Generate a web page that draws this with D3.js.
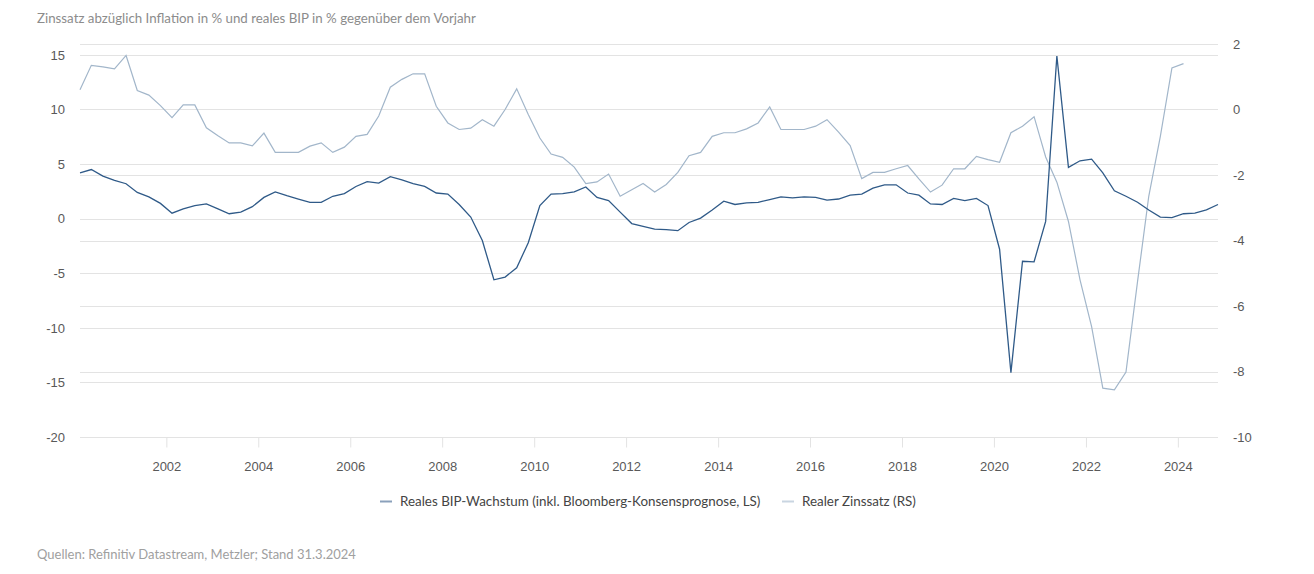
<!DOCTYPE html>
<html>
<head>
<meta charset="utf-8">
<script src="https://cdn.jsdelivr.net/npm/d3@7"></script>
<style>
  body { margin: 0; background: #fff; }
  svg { font-family: "Lato", "Open Sans", sans-serif; }
</style>
</head>
<body>
<div id="chart"></div>
<script>
// quarterly values, 2000Q1 .. 2024Q4
var firstYear = 2000;
var bipGrowth = [
  4.2, 4.5, 3.9, 3.5, 3.2, 2.4, 2.0, 1.4, 0.5, 0.9,
  1.2, 1.35, 0.9, 0.45, 0.6, 1.1, 1.95, 2.45, 2.1, 1.8,
  1.5, 1.5, 2.05, 2.3, 2.95, 3.4, 3.25, 3.85, 3.55, 3.2,
  2.95, 2.35, 2.25, 1.3, 0.15, -2.0, -5.6, -5.35, -4.5, -2.2,
  1.2, 2.25, 2.3, 2.45, 2.9, 1.95, 1.65, 0.6, -0.45, -0.7,
  -0.95, -1.0, -1.1, -0.35, 0.05, 0.8, 1.6, 1.3, 1.45, 1.5,
  1.75, 2.0, 1.9, 2.0, 1.95, 1.7, 1.8, 2.15, 2.25, 2.8,
  3.1, 3.1, 2.35, 2.15, 1.35, 1.3, 1.85, 1.65, 1.85, 1.2,
  -2.8, -14.1, -3.9, -3.95, -0.25, 14.9, 4.7, 5.3, 5.45, 4.2,
  2.55, 2.05, 1.5, 0.8, 0.15, 0.1, 0.45, 0.5, 0.8, 1.3
];
// 2000Q1 .. 2024Q1
var realRate = [
  0.6, 1.35, 1.3, 1.24, 1.65, 0.58, 0.44, 0.12, -0.25, 0.14,
  0.14, -0.56, -0.8, -1.02, -1.02, -1.11, -0.72, -1.31, -1.31, -1.31,
  -1.12, -1.02, -1.31, -1.15, -0.82, -0.76, -0.2, 0.68, 0.92, 1.09,
  1.09, 0.1, -0.41, -0.61, -0.57, -0.31, -0.51, 0.0, 0.63, -0.15,
  -0.87, -1.36, -1.46, -1.76, -2.26, -2.21, -1.97, -2.65, -2.45, -2.26,
  -2.52, -2.29, -1.92, -1.41, -1.31, -0.82, -0.71, -0.71, -0.59, -0.41,
  0.08, -0.61, -0.61, -0.61, -0.51, -0.31, -0.69, -1.1, -2.11, -1.92,
  -1.92, -1.81, -1.71, -2.12, -2.52, -2.31, -1.81, -1.81, -1.43, -1.53,
  -1.61, -0.71, -0.51, -0.22, -1.45, -2.22, -3.42, -5.2, -6.63, -8.51,
  -8.56, -8.02, -5.25, -2.65, -0.82, 1.27, 1.4
];
var leftTicks = [-20, -15, -10, -5, 0, 5, 10, 15];
var rightTicks = [-10, -8, -6, -4, -2, 0, 2];
var yearTicks = [2002, 2004, 2006, 2008, 2010, 2012, 2014, 2016, 2018, 2020, 2022, 2024];
var seriesNames = ["Reales BIP-Wachstum (inkl. Bloomberg-Konsensprognose, LS)", "Realer Zinssatz (RS)"];

var width = 1314, height = 574;
var plot = {left: 80, right: 1218, top: 44, bottom: 437};
var colBip = "#2f5a88", colRate = "#a2b6ca";

// mid-quarter date for each quarter
var dates = bipGrowth.map(function(d, i) {
  return d3.timeMonth.offset(new Date(firstYear, 1, 15), 3 * i);
});

var svg = d3.select("#chart").append("svg")
  .attr("width", width)
  .attr("height", height);

var x = d3.scaleTime().domain([dates[0], dates[dates.length - 1]]).range([plot.left, plot.right]);
var yL = d3.scaleLinear().domain([-20, 16]).range([plot.bottom, plot.top]);
var yR = d3.scaleLinear().domain([-10, 2]).range([plot.bottom, plot.top]);

// grid lines of both axes
svg.append("g").selectAll("line").data(leftTicks).enter().append("line")
  .attr("x1", plot.left).attr("x2", plot.right)
  .attr("y1", function(d) { return Math.round(yL(d)) + 0.5; })
  .attr("y2", function(d) { return Math.round(yL(d)) + 0.5; })
  .attr("stroke", "#e3e3e3");
svg.append("g").selectAll("line").data(rightTicks).enter().append("line")
  .attr("x1", plot.left).attr("x2", plot.right)
  .attr("y1", function(d) { return Math.round(yR(d)) + 0.5; })
  .attr("y2", function(d) { return Math.round(yR(d)) + 0.5; })
  .attr("stroke", "#e3e3e3");

// plain hyphen for negatives, like the original
var plain = function(d) { return String(d); };

var axL = svg.append("g")
  .attr("transform", "translate(" + (plot.left - 15) + ",0)")
  .call(d3.axisLeft(yL).tickValues(leftTicks).tickFormat(plain).tickSize(0).tickPadding(0));
var axR = svg.append("g")
  .attr("transform", "translate(" + (plot.right + 15) + ",0)")
  .call(d3.axisRight(yR).tickValues(rightTicks).tickFormat(plain).tickSize(0).tickPadding(0));
var axX = svg.append("g")
  .attr("transform", "translate(0," + (plot.bottom + 0.5) + ")")
  .call(d3.axisBottom(x)
    .tickValues(yearTicks.map(function(y) { return new Date(y, 0, 1); }))
    .tickFormat(d3.timeFormat("%Y"))
    .tickSize(10).tickPadding(14));

[axL, axR, axX].forEach(function(ax) {
  ax.select(".domain").remove();
  ax.selectAll("text").attr("fill", "#595959").style("font-size", "13px");
  ax.selectAll("line").attr("stroke", "#e3e3e3");
});

var lineBip = d3.line()
  .x(function(d, i) { return x(dates[i]); })
  .y(function(d) { return yL(d); });
var lineRate = d3.line()
  .x(function(d, i) { return x(dates[i]); })
  .y(function(d) { return yR(d); });

svg.append("path").datum(realRate)
  .attr("d", lineRate)
  .attr("fill", "none")
  .attr("stroke", colRate)
  .attr("stroke-width", 1.2);
svg.append("path").datum(bipGrowth)
  .attr("d", lineBip)
  .attr("fill", "none")
  .attr("stroke", colBip)
  .attr("stroke-width", 1.3);

// title and source
svg.append("text")
  .attr("x", 37).attr("y", 23)
  .attr("fill", "#8c8c8c")
  .style("font-size", "13.3px")
  .text("Zinssatz abzüglich Inflation in % und reales BIP in % gegenüber dem Vorjahr");
svg.append("text")
  .attr("x", 37).attr("y", 559)
  .attr("fill", "#a0a0a0")
  .style("font-size", "13px")
  .text("Quellen: Refinitiv Datastream, Metzler; Stand 31.3.2024");

// legend
var legend = svg.append("g").attr("class", "legend");
var lx = [380, 782];
var lcol = ["#8aa0bb", "#c9d5e1"];
seriesNames.forEach(function(name, i) {
  legend.append("line")
    .attr("x1", lx[i]).attr("x2", lx[i] + 12)
    .attr("y1", 501.5).attr("y2", 501.5)
    .attr("stroke", lcol[i]).attr("stroke-width", 2);
  legend.append("text")
    .attr("x", lx[i] + 20).attr("y", 506)
    .attr("fill", "#444")
    .style("font-size", "13.4px")
    .text(name);
});
</script>
</body>
</html>
